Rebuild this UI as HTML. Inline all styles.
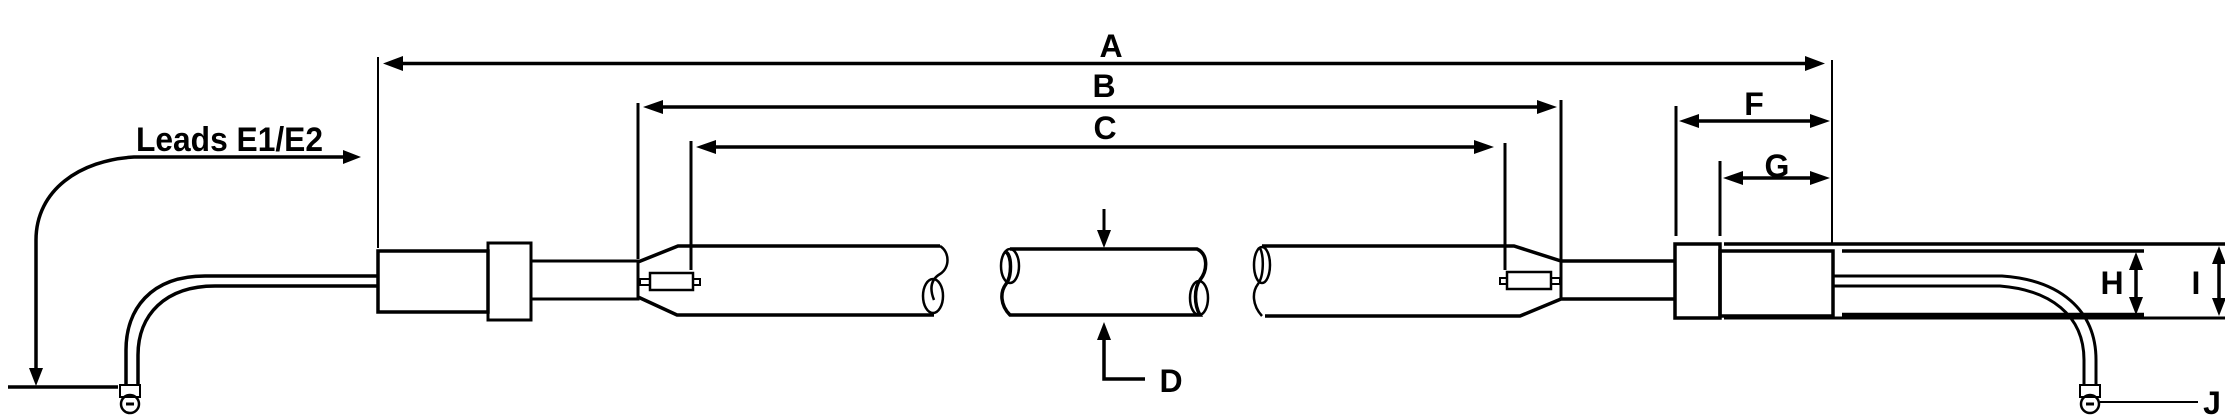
<!DOCTYPE html>
<html><head><meta charset="utf-8"><style>
html,body{margin:0;padding:0;background:#fff;}
svg{display:block;}
text{font-family:"Liberation Sans",sans-serif;font-weight:bold;fill:#000;}
</style></head><body>
<svg width="2225" height="419" viewBox="0 0 2225 419" xmlns="http://www.w3.org/2000/svg">
<g fill="none" stroke="#000" stroke-linecap="butt">
<!-- extension lines -->
<line x1="378" y1="57" x2="378" y2="248" stroke-width="2"/>
<line x1="638" y1="103" x2="638" y2="259" stroke-width="3"/>
<line x1="691" y1="141" x2="691" y2="270" stroke-width="3"/>
<line x1="1561" y1="100" x2="1561" y2="300" stroke-width="3"/>
<line x1="1505" y1="143" x2="1505" y2="270" stroke-width="3"/>
<line x1="1832" y1="60" x2="1832" y2="244" stroke-width="2"/>
<line x1="1676" y1="106" x2="1676" y2="236" stroke-width="3"/>
<line x1="1720" y1="161" x2="1720" y2="236" stroke-width="3"/>
<!-- dimension lines -->
<line x1="395" y1="63.5" x2="1812" y2="63.5" stroke-width="3.5"/>
<line x1="655" y1="107" x2="1545" y2="107" stroke-width="3.5"/>
<line x1="708" y1="147" x2="1480" y2="147" stroke-width="3.5"/>
<line x1="1692" y1="121" x2="1818" y2="121" stroke-width="3.5"/>
<line x1="1735" y1="178" x2="1818" y2="178" stroke-width="3.5"/>
<line x1="2136" y1="266" x2="2136" y2="302" stroke-width="3.5"/>
<line x1="2219" y1="258" x2="2219" y2="304" stroke-width="3.5"/>
<!-- D arrows -->
<line x1="1104" y1="209" x2="1104" y2="235" stroke-width="3"/>
<polyline points="1104,336 1104,379 1145,379" stroke-width="3.5"/>
<!-- Leads arrow -->
<path d="M348 157 L134 157 C80 160 36 190 36 240 L36 372" stroke-width="3.5"/>
<line x1="8" y1="387" x2="118" y2="387" stroke-width="3.5"/>
<line x1="2100" y1="402" x2="2198" y2="402" stroke-width="2"/>
<!-- left component -->
<rect x="378" y="251" width="110" height="61" stroke-width="3.5"/>
<rect x="488" y="243" width="43" height="77" stroke-width="3"/>
<path d="M531 261 L638 261 L638 299 L531 299" stroke-width="3"/>
<path d="M638 262 L678 246 L940 246" stroke-width="3.5"/>
<path d="M638 297 L677 315 L934 315" stroke-width="3.5"/>
<path d="M940 246 C950 252 950 268 940 274 C930 280 930 290 934 300" stroke-width="2.5"/>
<ellipse cx="933" cy="296" rx="10" ry="17" stroke-width="2.5"/>
<rect x="650" y="273" width="43" height="17" stroke-width="2.5"/>
<rect x="640" y="279" width="10" height="6" stroke-width="2"/>
<rect x="693" y="279" width="7" height="6" stroke-width="2"/>
<!-- middle tube -->
<path d="M1010 249 L1197 249 C1208 254 1208 270 1200 280 C1194 288 1194 305 1200 315 L1010 315 C1000 305 1000 292 1006 284 C1012 276 1012 256 1006 252" stroke-width="3.5"/>
<ellipse cx="1199" cy="298" rx="9" ry="17" stroke-width="2.5"/>
<ellipse cx="1010" cy="266" rx="9" ry="17" stroke-width="2.5"/>
<!-- right tube -->
<path d="M1262 246 L1514 246 L1561 261 L1675 261" stroke-width="3.5"/>
<path d="M1265 316 L1520 316 L1561 299 L1675 299" stroke-width="3.5"/>
<path d="M1262 316 C1252 305 1252 292 1258 284 C1264 276 1264 256 1260 248" stroke-width="2.5"/>
<ellipse cx="1262" cy="265" rx="8" ry="18" stroke-width="2.5"/>
<rect x="1507" y="272" width="44" height="17" stroke-width="2.5"/>
<rect x="1551" y="278" width="9" height="6" stroke-width="2"/>
<rect x="1500" y="278" width="7" height="6" stroke-width="2"/>
<rect x="1675" y="244" width="45" height="74" stroke-width="3.5"/>
<rect x="1720" y="251" width="113" height="65" stroke-width="3.5"/>
<line x1="1724" y1="244" x2="2225" y2="244" stroke-width="3.5"/>
<line x1="1842" y1="251" x2="2144" y2="251" stroke-width="3.5"/>
<line x1="1842" y1="315" x2="2144" y2="315" stroke-width="4.5"/>
<line x1="1724" y1="318" x2="2225" y2="318" stroke-width="3"/>
<!-- left cable -->
<path d="M378 276 L205 276 C150 276 126 310 126 350 L126 385" stroke-width="3.5"/>
<path d="M378 286 L215 286 C165 286 138 315 138 355 L138 385" stroke-width="3.5"/>
<rect x="120" y="385" width="20" height="12" stroke-width="2"/>
<circle cx="130" cy="404" r="9" stroke-width="2.5"/>
<line x1="126" y1="404" x2="134" y2="404" stroke-width="3"/>
<!-- right cable -->
<path d="M1833 276 L2002 276 C2060 280 2096 310 2096 360 L2096 385" stroke-width="3"/>
<path d="M1833 286 L2000 286 C2050 290 2084 315 2084 360 L2084 385" stroke-width="3"/>
<rect x="2080" y="385" width="20" height="12" stroke-width="2"/>
<circle cx="2090" cy="404" r="9" stroke-width="2.5"/>
<line x1="2086" y1="404" x2="2094" y2="404" stroke-width="3"/>
</g>
<!-- arrowheads -->
<g fill="#000">
<polygon points="383,63.5 403,56 403,71"/>
<polygon points="1825,63.5 1805,56 1805,71"/>
<polygon points="643,107 663,100 663,114"/>
<polygon points="1557,107 1537,100 1537,114"/>
<polygon points="696,147 716,140 716,154"/>
<polygon points="1494,147 1474,140 1474,154"/>
<polygon points="1679,121 1699,114 1699,128"/>
<polygon points="1830,121 1810,114 1810,128"/>
<polygon points="1723,178 1743,171 1743,185"/>
<polygon points="1830,178 1810,171 1810,185"/>
<polygon points="361,157 343,150 343,164"/>
<polygon points="36,386 29,368 43,368"/>
<polygon points="1104,248 1097,230 1111,230"/>
<polygon points="1104,322 1097,340 1111,340"/>
<polygon points="2136,252 2129,270 2143,270"/>
<polygon points="2136,315 2129,297 2143,297"/>
<polygon points="2219,246 2212,264 2226,264"/>
<polygon points="2219,316 2212,298 2226,298"/>
</g>
<g font-size="32">
<text x="136" y="151" font-size="34" textLength="187" lengthAdjust="spacingAndGlyphs">Leads E1/E2</text>
<text x="1111" y="57" text-anchor="middle">A</text>
<text x="1104" y="97" text-anchor="middle">B</text>
<text x="1105" y="139" text-anchor="middle">C</text>
<text x="1171" y="392" text-anchor="middle">D</text>
<text x="1754" y="115" text-anchor="middle">F</text>
<text x="1777" y="177" text-anchor="middle">G</text>
<text x="2112" y="294" text-anchor="middle">H</text>
<text x="2196" y="294" text-anchor="middle">I</text>
<text x="2212" y="414" text-anchor="middle">J</text>
</g>
</svg>
</body></html>
